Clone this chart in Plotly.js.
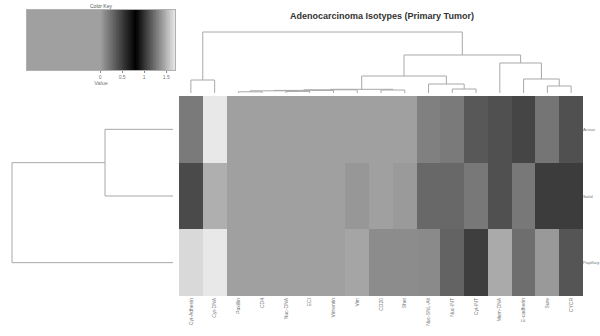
<!DOCTYPE html>
<html>
<head>
<meta charset="utf-8">
<script src="https://cdn.plot.ly/plotly-3.0.1.min.js"></script>
<style>html,body{margin:0;padding:0;background:#fff;}#chart{width:600px;height:336px;}</style>
</head>
<body>
<div id="chart"></div>
<script>
// ---- data ----
const colLabels = ["Cyt-Adhesin","Cyt-DNA","Paxillin","CD4","Nuc-DNA","ECI","Vimentin","Vim","CD20","Shet","Nuc-SNL-Alt","Nuc-INT","Cyt-INT","Mem-DNA","E-cadherin","Sure","CYCR"];
const rowLabels = ["Acinar","Solid","Papillary"];
const acinar    = [0.19,1.70,-0.3,-0.3,-0.3,-0.3,-0.3,-0.3,-0.3,-0.3,0.16,0.19,0.36,0.40,0.455,0.215,0.40];
const solid     = [0.43,1.48,-0.3,-0.3,-0.3,-0.3,-0.3,0.045,-0.3,0.03,0.28,0.28,0.20,0.40,0.20,0.50,0.50];
const papillary = [1.64,1.70,-0.3,-0.3,-0.3,-0.3,-0.3,1.44,0.10,0.10,0.11,0.305,0.49,1.46,0.25,0.035,0.375];
// column dendrogram merges (R hclust style: negative = leaf, positive = merge), with heights
const colMergeA = [-1,-3,-5,2,4,5,-9,6,-12,-11,8,-16,-15,-14,11,1];
const colMergeB = [-2,-4,-6,3,-7,-8,-10,7,-13,9,10,-17,12,13,14,15];
const colMergeH = [13,1.2,1.6,2.2,2.6,3.2,3.0,3.7,4,9,17,7,14,30,38,61];
// row dendrogram merges
const rowMergeA = [-1,1];
const rowMergeB = [-2,-3];
const rowMergeH = [68,161];
// color key
const keyMin = -1.66, keyMax = 1.7;
const keyTicks = [0,0.5,1,1.5];
const keyTickText = ["0","0.5","1","1.5"];

// ---- helpers ----
function dendroSegments(A,B,H){
  const pos=[], hts=[], xs=[], ys=[];
  function p(i){ return i<0 ? -i-1 : pos[i-1]; }
  function h(i){ return i<0 ? 0 : hts[i-1]; }
  for(let k=0;k<A.length;k++){
    const xa=p(A[k]), xb=p(B[k]), ha=h(A[k]), hb=h(B[k]), hk=H[k];
    xs.push(xa,xa,xb,xb,null); ys.push(ha,hk,hk,hb,null);
    pos.push((xa+xb)/2); hts.push(hk);
  }
  return {pos:xs, h:ys};
}
const colD = dendroSegments(colMergeA,colMergeB,colMergeH);
const rowD = dendroSegments(rowMergeA,rowMergeB,rowMergeH);

const cs = [[0,'#a0a0a0'],[(0-keyMin)/(keyMax-keyMin),'#a0a0a0'],[(0.8-keyMin)/(keyMax-keyMin),'#000000'],[1,'#e8e8e8']];

const keyX=[]; const keyZ=[];
for(let i=0;i<=200;i++){ const v=keyMin+(keyMax-keyMin)*i/200; keyX.push(v); keyZ.push(v); }

const colIdx = colLabels.map((_,i)=>i);
const rowIdx = rowLabels.map((_,i)=>i);

const traces = [
  {type:'heatmap', z:[acinar,solid,papillary], x:colIdx, y:rowIdx, colorscale:cs, zmin:keyMin, zmax:keyMax, showscale:false, hoverinfo:'skip', xaxis:'x', yaxis:'y'},
  {type:'scatter', mode:'lines', x:colD.pos, y:colD.h, line:{color:'#a8a8a8', width:1}, xaxis:'x2', yaxis:'y2', hoverinfo:'skip', connectgaps:false},
  {type:'scatter', mode:'lines', x:rowD.h, y:rowD.pos, line:{color:'#a8a8a8', width:1}, xaxis:'x3', yaxis:'y3', hoverinfo:'skip', connectgaps:false},
  {type:'heatmap', z:[keyZ], x:keyX, y:[0.5], colorscale:cs, zmin:keyMin, zmax:keyMax, showscale:false, hoverinfo:'skip', xaxis:'x4', yaxis:'y4'}
];

const hx=[179/600,583/600], hy=[40/336,240/336];
const F='Liberation Sans, Arial, sans-serif';
const layout = {
  width:600, height:336, margin:{l:0,r:0,t:0,b:0}, showlegend:false,
  paper_bgcolor:'#ffffff', plot_bgcolor:'#ffffff',
  font:{family:F, color:'#666'},
  title:{text:'<b>Adenocarcinoma Isotypes (Primary Tumor)</b>', x:382/600, xanchor:'center', y:1-16/336, yanchor:'middle', font:{size:9, color:'#333', family:F}},
  xaxis:{domain:hx, range:[-0.5,16.5], tickvals:colIdx, ticktext:colLabels, tickangle:-90, tickfont:{size:5, color:'#777'}, ticks:'', showgrid:false, zeroline:false, showline:false, anchor:'y', fixedrange:true},
  yaxis:{domain:hy, range:[2.5,-0.5], tickvals:rowIdx, ticktext:rowLabels, side:'right', tickfont:{size:4.3, color:'#777'}, ticks:'', ticklabelstandoff:-1, showgrid:false, zeroline:false, showline:false, anchor:'x'},
  xaxis2:{domain:hx, range:[-0.5,16.5], visible:false, anchor:'y2'},
  yaxis2:{domain:[(336-93)/336,(336-30)/336], range:[0,63], visible:false, anchor:'x2'},
  xaxis3:{domain:[0,173/600], range:[173,0], visible:false, anchor:'y3'},
  yaxis3:{domain:hy, range:[2.5,-0.5], visible:false, anchor:'x3'},
  xaxis4:{domain:[27/600,175/600], range:[keyMin,keyMax], tickvals:keyTicks, ticktext:keyTickText, ticks:'outside', ticklen:2, tickcolor:'#888', tickfont:{size:5, color:'#777'}, showline:true, mirror:true, linecolor:'#b0b0b0', linewidth:1, showgrid:false, zeroline:false, anchor:'y4',
          title:{text:'Value', font:{size:5.5, color:'#777'}, standoff:1}},
  yaxis4:{domain:[(336-70)/336,(336-10)/336], range:[0,1], showticklabels:false, ticks:'', showline:true, mirror:true, linecolor:'#b0b0b0', linewidth:1, showgrid:false, zeroline:false, anchor:'x4'},
  annotations:[
    {text:'Color Key', xref:'paper', yref:'paper', x:101/600, y:1-6/336, xanchor:'center', yanchor:'middle', showarrow:false, font:{size:5, color:'#555', family:F}}
  ]
};
Plotly.newPlot('chart', traces, layout, {staticPlot:true, displayModeBar:false});
</script>
</body>
</html>
